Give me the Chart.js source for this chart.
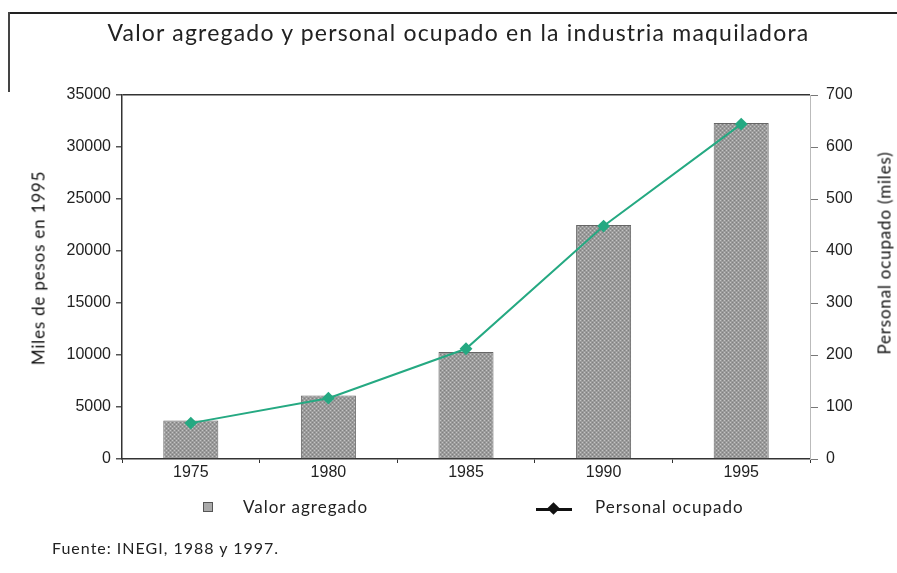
<!DOCTYPE html>
<html>
<head>
<meta charset="utf-8">
<script src="https://cdn.jsdelivr.net/npm/chart.js@4"></script>
<style>
  html, body { margin: 0; padding: 0; background: #fff; }
  #wrap { position: relative; width: 897px; height: 573px; overflow: hidden; }
  #frameTop { position: absolute; left: 8px; top: 12px; width: 889px; border-top: 2px solid #222; }
  #frameLeft { position: absolute; left: 8px; top: 12px; height: 80px; border-left: 2px solid #444; }
  #title { position: absolute; left: 0; top: 18px; width: 917px; text-align: center;
           font-family: 'Lato', 'Open Sans', sans-serif; font-size: 23px; letter-spacing: 1.2px; color: #222; }
  .txt { position: absolute; font-family: 'Lato', 'Open Sans', sans-serif; font-size: 17px; letter-spacing: 1px; color: #222; white-space: nowrap; }
  .rot { position: absolute; font-family: 'Lato', 'Open Sans', sans-serif; font-size: 17px; letter-spacing: 0.8px; color: #111;
         white-space: nowrap; transform: translate(-50%, -50%) rotate(-90deg); }
  #legBox { position: absolute; left: 203px; top: 502px; width: 8px; height: 8px; border: 1px solid #555; background: #aaa; }
  #legLine { position: absolute; left: 536px; top: 508px; width: 36px; border-top: 3px solid #111; }
  #legDot { position: absolute; left: 549px; top: 504px; width: 9px; height: 9px; background: #111; transform: rotate(45deg); }
</style>
</head>
<body>
<div id="wrap">
  <canvas id="grafica" width="897" height="573"></canvas>
  <div id="frameTop"></div>
  <div id="frameLeft"></div>
  <div id="title">Valor agregado y personal ocupado en la industria maquiladora</div>
  <div class="rot" style="left:38px; top:268px;">Miles de pesos en 1995</div>
  <div class="rot" style="left:884px; top:253px;">Personal ocupado (miles)</div>
  <div id="legBox"></div>
  <div class="txt" style="left:243px; top:496px;">Valor agregado</div>
  <div id="legLine"></div>
  <div id="legDot"></div>
  <div class="txt" style="left:595px; top:496px;">Personal ocupado</div>
  <div class="txt" style="left:52px; top:538px; font-size:16px;">Fuente: INEGI, 1988 y 1997.</div>
</div>
<script>
// datos
const anios = ['1975', '1980', '1985', '1990', '1995'];
const valorAgregado = [3700, 6100, 10300, 22500, 32300];   // miles de pesos de 1995
const personalOcupado = [69, 117, 212, 448, 644];           // miles de personas

const tickColor = '#222';
const fuenteEje = { family: 'Liberation Sans', size: 16 };

// textura gris punteada de las barras
function texturaBarra() {
    const c = document.createElement('canvas');
    c.width = 4; c.height = 4;
    const g = c.getContext('2d');
    g.fillStyle = '#9b9b9b';
    g.fillRect(0, 0, 4, 4);
    g.fillStyle = '#c4c4c4';
    g.fillRect(0, 0, 1, 1);
    g.fillRect(2, 2, 1, 1);
    g.fillStyle = '#808080';
    g.fillRect(2, 0, 1, 1);
    g.fillRect(0, 2, 1, 1);
    return g.createPattern(c, 'repeat');
}

const ctx = document.getElementById('grafica').getContext('2d');

new Chart(ctx, {
    data: {
        labels: anios,
        datasets: [
            {
                type: 'line',
                label: 'Personal ocupado',
                data: personalOcupado,
                yAxisID: 'y1',
                borderColor: '#25a982',
                backgroundColor: '#25a982',
                borderWidth: 2,
                pointStyle: 'rectRot',
                pointRadius: 5,
                tension: 0,
                order: 1
            },
            {
                type: 'bar',
                label: 'Valor agregado',
                data: valorAgregado,
                yAxisID: 'y',
                backgroundColor: texturaBarra(),
                borderColor: '#666',
                borderWidth: 1,
                barPercentage: 0.4,
                categoryPercentage: 1,
                order: 2
            }
        ]
    },
    options: {
        responsive: false,
        animation: false,
        layout: { padding: { top: 95, left: 20, right: 12, bottom: 0 } },
        plugins: {
            legend: { display: false },
            tooltip: { enabled: false }
        },
        scales: {
            x: {
                offset: true,
                afterFit: (s) => { s.height = 573 - 459; },
                grid: {
                    offset: true,
                    drawOnChartArea: false,
                    color: '#333',
                    tickLength: 4
                },
                border: { color: '#333', width: 1.5 },
                ticks: { color: tickColor, font: fuenteEje, padding: 0 }
            },
            y: {
                position: 'left',
                min: 0, max: 35000,
                afterFit: (s) => { s.width = 102; },
                grid: {
                    color: (c) => c.tick && c.tick.value === 35000 ? '#333' : 'rgba(0,0,0,0)',
                    lineWidth: 1.5,
                    tickColor: '#555',
                    tickLength: 6
                },
                border: { color: '#333', width: 1.5 },
                ticks: { stepSize: 5000, color: tickColor, font: fuenteEje, padding: 5,
                         callback: (v) => String(v) }
            },
            y1: {
                position: 'right',
                min: 0, max: 700,
                afterFit: (s) => { s.width = 897 - 810 - 12; },
                grid: { drawOnChartArea: false, color: '#777', tickLength: 8 },
                border: { color: '#bbb', width: 1 },
                ticks: { stepSize: 100, color: tickColor, font: fuenteEje, padding: 8,
                         callback: (v) => String(v) }
            }
        }
    }
});
</script>
</body>
</html>
